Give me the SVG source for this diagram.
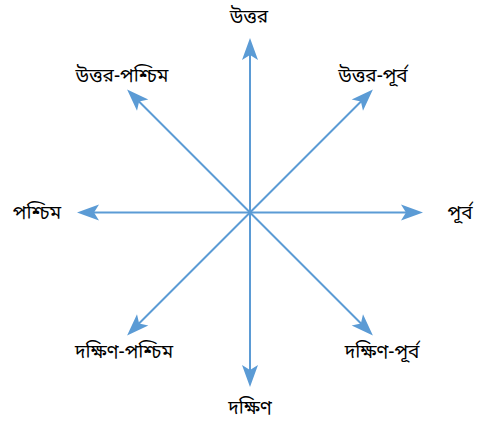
<svg xmlns="http://www.w3.org/2000/svg" width="486" height="426" viewBox="0 0 486 426">
<defs>
<style>
.lbl{font-family:"Noto Sans Bengali","Noto Serif Bengali","Lohit Bengali","Noto Sans","DejaVu Sans",sans-serif;font-size:19px;fill:#000;text-anchor:middle}
.ax{stroke:#5B9BD5;stroke-width:2;fill:none}
</style>
<marker id="ah" viewBox="-23 -9 24 18" refX="-14" refY="0" markerWidth="24" markerHeight="18" markerUnits="userSpaceOnUse" orient="auto">
<path d="M0,0 L-22,-8 L-17,0 L-22,8 Z" fill="#5B9BD5"/>
</marker>
</defs>
<rect width="486" height="426" fill="#fff"/>
<g id="connectors">
<line class="ax" x1="250" y1="212.5" x2="250" y2="52" marker-end="url(#ah)"/>
<line class="ax" x1="250" y1="212.5" x2="250" y2="373" marker-end="url(#ah)"/>
<line class="ax" x1="250" y1="212.5" x2="409" y2="212.5" marker-end="url(#ah)"/>
<line class="ax" x1="250" y1="212.5" x2="91" y2="212.5" marker-end="url(#ah)"/>
<line class="ax" x1="250" y1="212.5" x2="363" y2="99.5" marker-end="url(#ah)"/>
<line class="ax" x1="250" y1="212.5" x2="137" y2="99.5" marker-end="url(#ah)"/>
<line class="ax" x1="250" y1="212.5" x2="363" y2="325.5" marker-end="url(#ah)"/>
<line class="ax" x1="250" y1="212.5" x2="137" y2="325.5" marker-end="url(#ah)"/>
</g>
<g id="n-north"><text class="lbl" x="249" y="23">উত্তর</text></g>
<g id="n-northeast"><text class="lbl" x="373" y="82">উত্তর-পূর্ব</text></g>
<g id="n-northwest"><text class="lbl" x="122" y="82">উত্তর-পশ্চিম</text></g>
<g id="n-west"><text class="lbl" x="37" y="219">পশ্চিম</text></g>
<g id="n-east"><text class="lbl" x="460" y="219">পূর্ব</text></g>
<g id="n-southwest"><text class="lbl" x="124" y="358">দক্ষিণ-পশ্চিম</text></g>
<g id="n-southeast"><text class="lbl" x="382" y="358">দক্ষিণ-পূর্ব</text></g>
<g id="n-south"><text class="lbl" x="250" y="414">দক্ষিণ</text></g>
</svg>
